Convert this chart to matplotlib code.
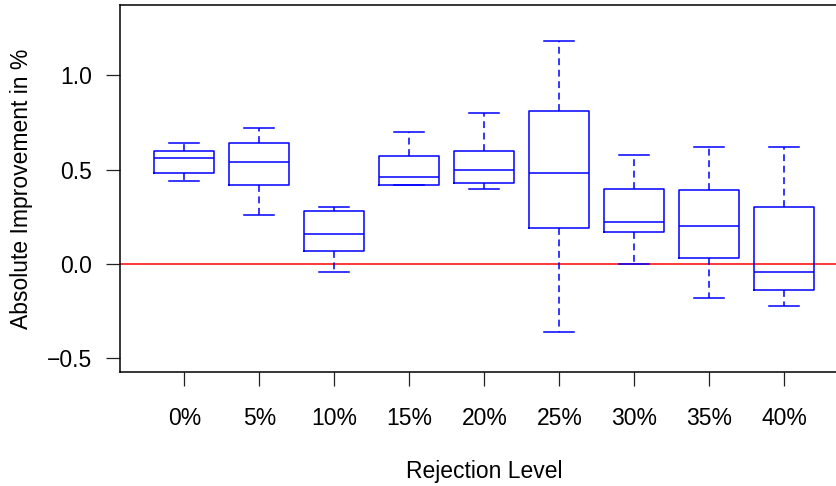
#!/usr/bin/env python3
import matplotlib
matplotlib.use("Agg")
import matplotlib.pyplot as plt

plt.rcParams['font.family'] = ['Liberation Sans', 'DejaVu Sans']

# values
levels = ["0%", "5%", "10%", "15%", "20%", "25%", "30%", "35%", "40%"]
whis_lo = [0.44, 0.26, -0.04, 0.42, 0.40, -0.36, 0.00, -0.18, -0.22]
q1 = [0.48, 0.42, 0.07, 0.42, 0.43, 0.19, 0.17, 0.03, -0.14]
med = [0.56, 0.54, 0.16, 0.46, 0.50, 0.48, 0.22, 0.20, -0.04]
q3 = [0.60, 0.64, 0.28, 0.57, 0.60, 0.81, 0.40, 0.39, 0.30]
whis_hi = [0.64, 0.72, 0.30, 0.70, 0.80, 1.18, 0.58, 0.62, 0.62]
yticks = [-0.5, 0.0, 0.5, 1.0]
ytick_labels = ["\u22120.5", "0.0", "0.5", "1.0"]

stats = []
for i in range(len(levels)):
    stats.append(dict(label=levels[i], whislo=whis_lo[i], q1=q1[i], med=med[i],
                      q3=q3[i], whishi=whis_hi[i], fliers=[]))

fig = plt.figure(figsize=(8.37, 4.86), dpi=100)
# plot region runs off the right edge of the picture, as in the reference
ax = fig.add_axes([120 / 837, 114 / 486, 728.8 / 837, 367 / 486])

blue = "#0000ff"
pos = list(range(1, len(levels) + 1))
ax.bxp(stats, positions=pos, widths=0.8, capwidths=0.4, showfliers=False,
       boxprops=dict(color=blue, lw=1.1),
       medianprops=dict(color=blue, lw=1.1),
       whiskerprops=dict(color=blue, lw=1.1, linestyle=(0, (4.5, 3))),
       capprops=dict(color=blue, lw=1.1))

ax.axhline(0, color="#ff0000", lw=1.1, zorder=1)

ax.set_xlim(0.14, 9.86)
ax.set_ylim(-0.572, 1.372)
ax.set_xticks(pos)
ax.set_xticklabels(levels)
ax.set_yticks(yticks)
ax.set_yticklabels(ytick_labels)
ax.tick_params(direction="out", length=10, width=0.9, labelsize=16.5, color="#222222")
ax.tick_params(axis="x", pad=15)
ax.tick_params(axis="y", pad=10)
for s in ax.spines.values():
    s.set_linewidth(1.1)
    s.set_color("black")

fig.text(484 / 837, 1 - 478 / 486, "Rejection Level", ha="center", va="baseline", fontsize=16.5)
fig.text(22 / 837, 1 - 188.5 / 486, "Absolute Improvement in %", ha="center", va="center",
         rotation=90, fontsize=16.5)

fig.savefig("out.png", dpi=100)
